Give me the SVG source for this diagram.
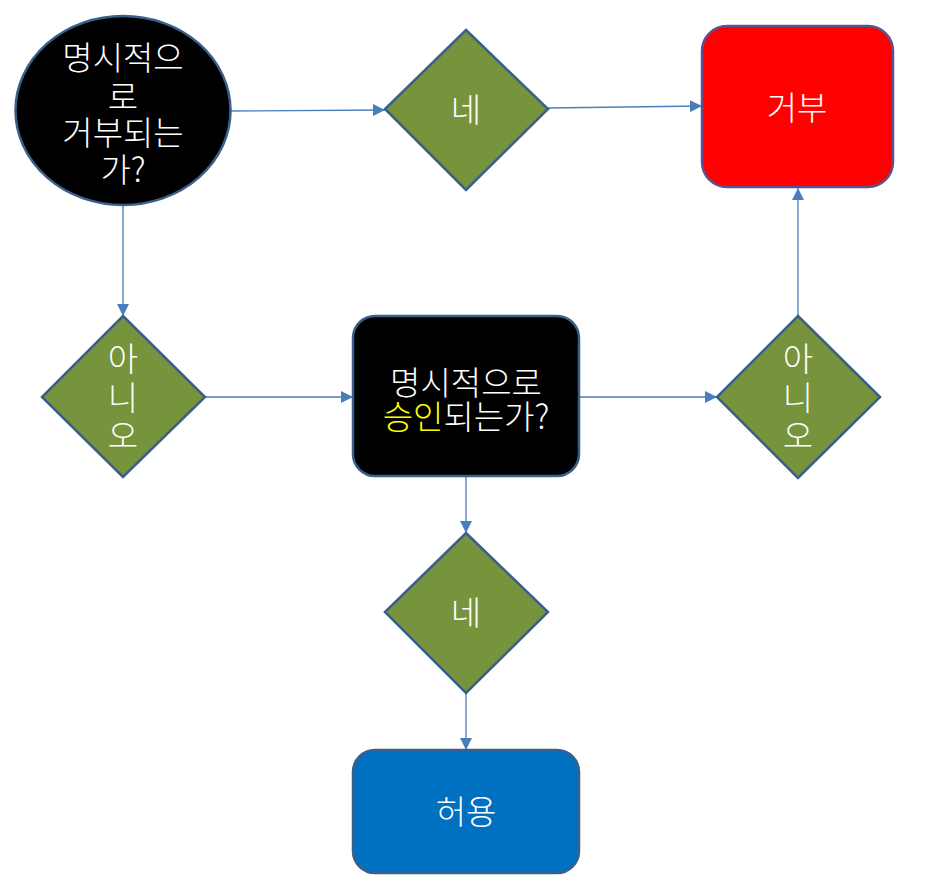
<svg xmlns="http://www.w3.org/2000/svg" width="927" height="892" viewBox="0 0 927 892">
<defs>
<marker id="arr" viewBox="0 0 10 10" refX="10" refY="5" markerWidth="12" markerHeight="12" markerUnits="userSpaceOnUse" orient="auto">
<path d="M0,0 L10,5 L0,10 z" fill="#4A7EBB"/>
</marker>
</defs>
<style>
.t{font-family:"Noto Sans CJK KR","Noto Sans",sans-serif;fill:#ffffff;font-size:33px;font-weight:300;text-anchor:middle;dominant-baseline:central}
.dia{fill:#77933C;stroke:#3A5F8A;stroke-width:2.5}
.c{fill:none;stroke:#4A7EBB;stroke-width:1.3}
</style>
<rect width="927" height="892" fill="#ffffff"/>
<g id="connectors">
<line class="c" x1="231" y1="111" x2="385" y2="110" marker-end="url(#arr)"/>
<line class="c" x1="548" y1="108" x2="702" y2="106" marker-end="url(#arr)"/>
<line class="c" x1="123" y1="206" x2="123" y2="316" marker-end="url(#arr)"/>
<line class="c" x1="205" y1="397" x2="353" y2="397" marker-end="url(#arr)"/>
<line class="c" x1="579" y1="397" x2="717" y2="397" marker-end="url(#arr)"/>
<line class="c" x1="798" y1="316" x2="798" y2="188" marker-end="url(#arr)"/>
<line class="c" x1="466" y1="477" x2="466" y2="533" marker-end="url(#arr)"/>
<line class="c" x1="466" y1="693" x2="466" y2="750" marker-end="url(#arr)"/>
</g>
<g id="q1">
<ellipse cx="123" cy="110.5" rx="107.5" ry="94.5" fill="#000000" stroke="#3A5F8A" stroke-width="2.5"/>
<text class="t" x="123" y="56">명시적으</text>
<text class="t" x="123" y="95">로</text>
<text class="t" x="123" y="131">거부되는</text>
<text class="t" x="123" y="168">가?</text>
</g>
<g id="yes1">
<polygon class="dia" points="466,30 548,109 466,190 385,109"/>
<text class="t" x="466" y="108">네</text>
</g>
<g id="deny">
<rect x="702" y="26" width="191" height="161" rx="25" fill="#FF0000" stroke="#5B5290" stroke-width="2.5"/>
<text class="t" x="797" y="106">거부</text>
</g>
<g id="no1">
<polygon class="dia" points="123,316 205,397 123,477 42,397"/>
<text class="t" x="123" y="357">아</text>
<text class="t" x="123" y="396">니</text>
<text class="t" x="123" y="434">오</text>
</g>
<g id="q2">
<rect x="353" y="316" width="226" height="160" rx="22" fill="#000000" stroke="#3A5F8A" stroke-width="2.5"/>
<text class="t" x="466" y="381">명시적으로</text>
<text class="t" x="466" y="415"><tspan fill="#FFFF00">승인</tspan>되는가?</text>
</g>
<g id="no2">
<polygon class="dia" points="798,316 880,397 798,478 717,397"/>
<text class="t" x="798" y="357">아</text>
<text class="t" x="798" y="396">니</text>
<text class="t" x="798" y="434">오</text>
</g>
<g id="yes2">
<polygon class="dia" points="466,533 548,612 466,693 385,612"/>
<text class="t" x="466" y="611">네</text>
</g>
<g id="allow">
<rect x="353" y="750" width="226" height="123" rx="22" fill="#0070C0" stroke="#3A5F8A" stroke-width="2.5"/>
<text class="t" x="466" y="810">허용</text>
</g>
</svg>
